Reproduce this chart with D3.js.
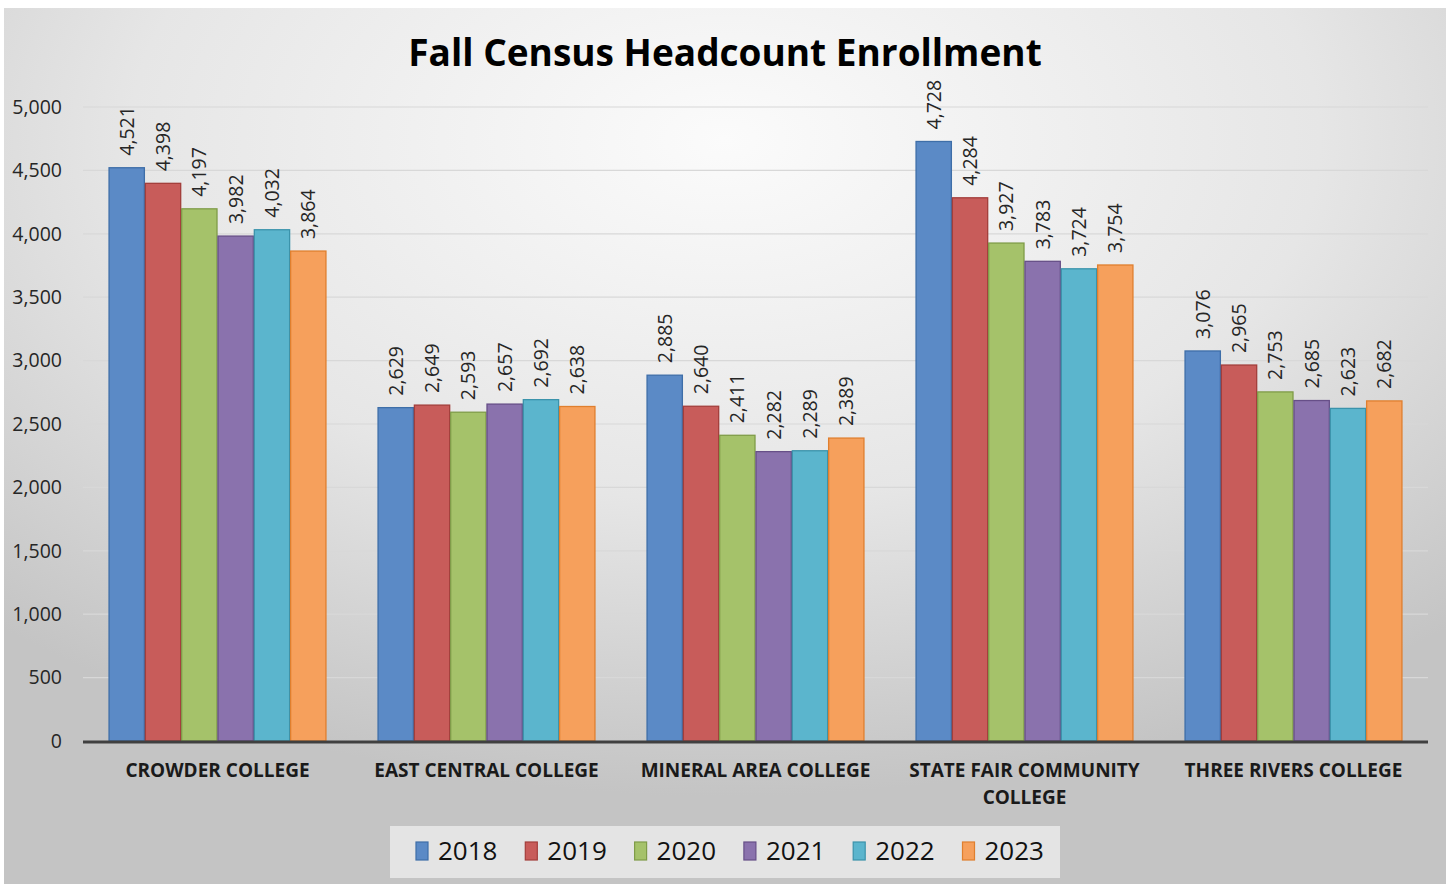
<!DOCTYPE html>
<html>
<head>
<meta charset="utf-8">
<script src="https://cdn.jsdelivr.net/npm/d3@7"></script>
<style>
  body { margin: 0; background: #fff; }
  svg { display: block; font-family: "Open Sans", "Noto Sans", sans-serif; }
</style>
</head>
<body>
<svg id="chart" width="1452" height="884"></svg>
<script>
const colleges = ['CROWDER COLLEGE', 'EAST CENTRAL COLLEGE', 'MINERAL AREA COLLEGE', 'STATE FAIR COMMUNITY COLLEGE', 'THREE RIVERS COLLEGE'];
const years = ['2018', '2019', '2020', '2021', '2022', '2023'];
const values2018 = [4521, 2629, 2885, 4728, 3076];
const values2019 = [4398, 2649, 2640, 4284, 2965];
const values2020 = [4197, 2593, 2411, 3927, 2753];
const values2021 = [3982, 2657, 2282, 3783, 2685];
const values2022 = [4032, 2692, 2289, 3724, 2623];
const values2023 = [3864, 2638, 2389, 3754, 2682];
const yTicks = [0, 500, 1000, 1500, 2000, 2500, 3000, 3500, 4000, 4500, 5000];

const seriesValues = [values2018, values2019, values2020, values2021, values2022, values2023];
const fills = ['#5b8ac6', '#c85c5a', '#a5c26a', '#8a72ad', '#5bb5cd', '#f6a05c'];
const strokes = ['#3e6ea8', '#a33e3b', '#7f9c48', '#674f88', '#3b93ab', '#e07f2e'];

const svg = d3.select('#chart');
const W = 1452, H = 884;

// background with radial gradient
const defs = svg.append('defs');
const grad = defs.append('radialGradient')
	.attr('id', 'bg')
	.attr('cx', 0.5).attr('cy', 0.15).attr('r', 0.75)
	.attr('gradientUnits', 'objectBoundingBox');
grad.append('stop').attr('offset', '0%').attr('stop-color', '#fbfbfb');
grad.append('stop').attr('offset', '55%').attr('stop-color', '#e6e6e6');
grad.append('stop').attr('offset', '100%').attr('stop-color', '#c4c4c4');

svg.append('rect')
	.attr('x', 4).attr('y', 8)
	.attr('width', W - 10).attr('height', H - 8)
	.attr('fill', 'url(#bg)');

const margin = {left: 83, right: 1428, top: 107, bottom: 741};

const y = d3.scaleLinear()
	.domain([0, 5000])
	.range([margin.bottom, margin.top]);

const x0 = d3.scaleBand()
	.domain(colleges)
	.range([margin.left, margin.right])
	.paddingInner(0.19)
	.paddingOuter(0.095);

const x1 = d3.scaleBand()
	.domain(years)
	.range([0, x0.bandwidth()]);

// gridlines
svg.append('g')
	.selectAll('line')
	.data(yTicks.filter(d => d > 0))
	.enter().append('line')
	.attr('x1', margin.left)
	.attr('x2', margin.right)
	.attr('y1', d => y(d))
	.attr('y2', d => y(d))
	.style('stroke', '#d8d8d8')
	.style('stroke-width', 1.2);

// y axis labels
const yAxis = d3.axisLeft(y)
	.tickValues(yTicks)
	.tickSize(0)
	.tickPadding(0)
	.tickFormat(d3.format(','));

svg.append('g')
	.attr('transform', 'translate(62,0)')
	.call(yAxis)
	.call(g => g.select('.domain').remove())
	.selectAll('text')
	.style('font-size', '19.5px')
	.style('fill', '#262626')
	.style('font-family', '"Open Sans", sans-serif');

// bars
const groups = svg.append('g')
	.selectAll('.college')
	.data(colleges)
	.enter().append('g')
	.attr('class', 'college')
	.attr('transform', d => 'translate(' + x0(d) + ',0)');

const barData = (college, ci) => years.map((yr, i) => ({year: yr, i: i, value: seriesValues[i][ci]}));

groups.selectAll('rect')
	.data((d, ci) => barData(d, ci))
	.enter().append('rect')
	.attr('x', d => x1(d.year) + 0.5)
	.attr('y', d => y(d.value))
	.attr('width', x1.bandwidth() - 1)
	.attr('height', d => y(0) - y(d.value))
	.style('fill', d => fills[d.i])
	.style('stroke', d => strokes[d.i])
	.style('stroke-width', 1.3);

groups.selectAll('.val')
	.data((d, ci) => barData(d, ci))
	.enter().append('text')
	.attr('class', 'val')
	.attr('transform', d => 'translate(' + (x1(d.year) + x1.bandwidth() / 2) + ',' + (y(d.value) - 12) + ') rotate(-90)')
	.attr('dy', '0.36em')
	.style('font-size', '19.5px')
	.style('fill', '#262626')
	.text(d => d3.format(',')(d.value));

// x axis line
svg.append('line')
	.attr('x1', margin.left)
	.attr('x2', margin.right)
	.attr('y1', y(0) + 1)
	.attr('y2', y(0) + 1)
	.style('stroke', '#404040')
	.style('stroke-width', 3);

// category labels
const catLines = {
	'STATE FAIR COMMUNITY COLLEGE': ['STATE FAIR COMMUNITY', 'COLLEGE']
};

svg.append('g')
	.selectAll('text')
	.data(colleges)
	.enter().append('text')
	.attr('x', d => x0(d) + x0.bandwidth() / 2)
	.attr('y', 777)
	.attr('text-anchor', 'middle')
	.style('font-size', '19px')
	.style('font-weight', 'bold')
	.style('fill', '#1a1a1a')
	.each(function(d) {
		const lines = catLines[d] || [d];
		d3.select(this).selectAll('tspan')
			.data(lines)
			.enter().append('tspan')
			.attr('x', x0(d) + x0.bandwidth() / 2)
			.attr('dy', (l, i) => i === 0 ? 0 : 27)
			.text(l => l);
	});

// title
svg.append('text')
	.attr('x', 725)
	.attr('y', 66)
	.attr('text-anchor', 'middle')
	.style('font-size', '37px')
	.style('font-weight', 'bold')
	.style('fill', '#000')
	.text('Fall Census Headcount Enrollment');

// legend
const legend = svg.append('g');
legend.append('rect')
	.attr('x', 390).attr('y', 826)
	.attr('width', 670).attr('height', 52)
	.style('fill', '#e4e4e4');

const items = legend.selectAll('.item')
	.data(years)
	.enter().append('g')
	.attr('class', 'item')
	.attr('transform', (d, i) => 'translate(' + (416 + i * 109.3) + ',842)');

items.append('rect')
	.attr('width', 12).attr('height', 18)
	.style('fill', (d, i) => fills[i])
	.style('stroke', (d, i) => strokes[i])
	.style('stroke-width', 1.2);

items.append('text')
	.attr('x', 22)
	.attr('y', 18)
	.style('font-size', '26px')
	.style('fill', '#111')
	.text(d => d);
</script>
</body>
</html>
